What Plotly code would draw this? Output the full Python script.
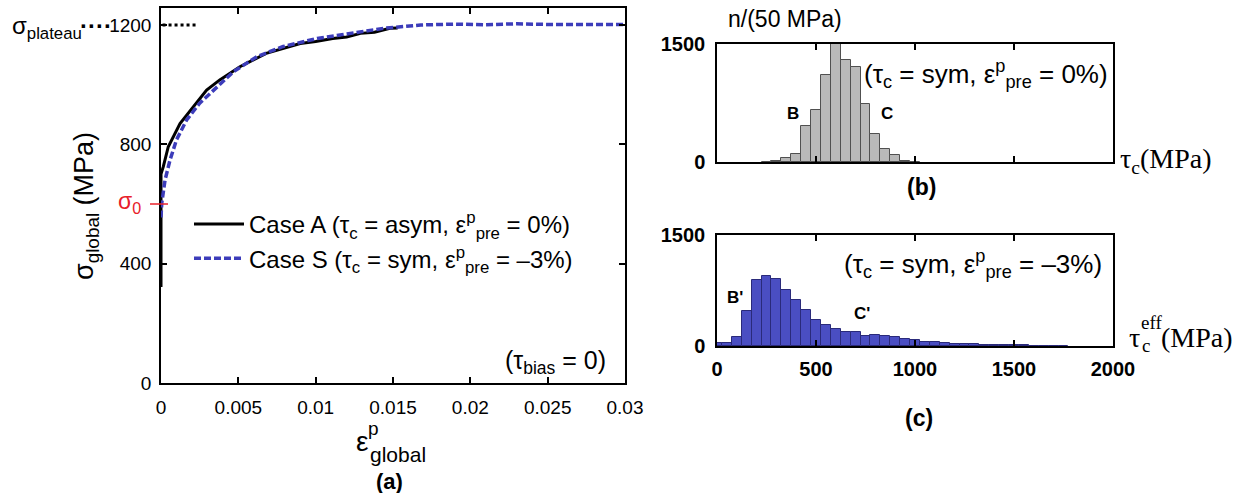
import plotly.graph_objects as go

W, H = 1239, 493

# ---------------- data ----------------
# Panel (a): stress-strain curves
caseA_strain = [0, 0, 0.00015, 0.00047, 0.00123, 0.00209, 0.00295, 0.0038, 0.0051, 0.0068,
                0.0079, 0.0090, 0.0100, 0.0111, 0.0120, 0.0129, 0.0138, 0.0148, 0.0153]
caseA_stress = [322, 700, 725, 792, 870, 926, 982, 1016, 1060, 1105,
                1122, 1138, 1145, 1155, 1160, 1172, 1176, 1189, 1190]

caseS_strain = [0, 0.00005, 0.00026, 0.00058, 0.0010, 0.00166, 0.0025, 0.0036, 0.0047, 0.0062,
                0.0079, 0.0101, 0.0122, 0.0144, 0.0168, 0.019, 0.021, 0.023, 0.025, 0.027, 0.030]
caseS_stress = [555, 603, 680, 747, 815, 882, 938, 993, 1044, 1094,
                1128, 1155, 1172, 1189, 1200, 1203, 1201, 1204, 1202, 1203, 1202]

plateau_strain = [0.0001, 0.0023]
plateau_stress = [1200, 1200]
sigma0 = 600

a_xticks = [0, 0.005, 0.01, 0.015, 0.02, 0.025, 0.03]
a_xticktext = ["0", "0.005", "0.01", "0.015", "0.02", "0.025", "0.03"]
a_yticks = [0, 400, 800, 1200]

# Panel (b): histogram of tau_c (sym, 0%)
b_centers = [250, 300, 350, 400, 450, 500, 550, 600, 650, 700, 750, 800, 850, 900, 950, 1000]
b_counts = [4, 12, 50, 105, 463, 662, 1103, 1500, 1293, 1210, 735, 354, 165, 88, 17, 3]

# Panel (c): histogram of tau_c^eff (sym, -3%)
c_centers = [0, 50, 100, 150, 200, 250, 300, 350, 400, 450, 500, 550, 600, 650, 700, 750,
             800, 850, 900, 950, 1000, 1050, 1100, 1150, 1200, 1250, 1300, 1350, 1400, 1450,
             1500, 1550, 1600, 1650, 1700, 1750]
c_counts = [40, 40, 125, 470, 895, 945, 900, 755, 620, 485, 345, 290, 225, 190, 190, 130,
            150, 130, 125, 100, 75, 60, 50, 40, 32, 27, 23, 20, 16, 13,
            10, 7, 5, 4, 3, 2]

hist_xticks = [0, 500, 1000, 1500, 2000]
hist_yticks = [0, 1500]

# ---------------- helpers ----------------
def px(x):
    return x / W

def py(y):
    return 1 - y / H

SANS = "Liberation Sans, Arial, sans-serif"
SERIF = "Liberation Serif, Times New Roman, serif"
BLUE = "#3c3cba"

fig = go.Figure()

fig.add_trace(go.Scatter(x=caseA_strain, y=caseA_stress, mode="lines",
                         line=dict(color="black", width=3),
                         name="Case A (τ<sub>c</sub> = asym, ε<sup>p</sup><sub>pre</sub> = 0%)",
                         xaxis="x", yaxis="y"))
fig.add_trace(go.Scatter(x=caseS_strain, y=caseS_stress, mode="lines",
                         line=dict(color=BLUE, width=3.5, dash="7px,3px"),
                         name="Case S (τ<sub>c</sub> = sym, ε<sup>p</sup><sub>pre</sub> = –3%)",
                         xaxis="x", yaxis="y"))
fig.add_trace(go.Scatter(x=plateau_strain, y=plateau_stress, mode="lines",
                         line=dict(color="black", width=3, dash="dot"),
                         showlegend=False, xaxis="x", yaxis="y"))

fig.add_trace(go.Bar(x=b_centers, y=b_counts, width=50,
                     marker=dict(color="#b9b9b9", line=dict(color="#505050", width=1)),
                     showlegend=False, xaxis="x2", yaxis="y2"))
fig.add_trace(go.Bar(x=c_centers, y=c_counts, width=50,
                     marker=dict(color="#4a4ec2", line=dict(color="#2a2a7a", width=1)),
                     showlegend=False, xaxis="x3", yaxis="y3"))

axis_common = dict(showline=True, linecolor="black", linewidth=1.5, mirror="ticks",
                   ticks="inside", ticklen=6, tickcolor="black", tickwidth=1.5,
                   showgrid=False, zeroline=False, fixedrange=True, automargin=False)

fig.update_layout(
    width=W, height=H,
    margin=dict(l=0, r=0, t=0, b=0, pad=0),
    paper_bgcolor="white", plot_bgcolor="white",
    bargap=0,
    font=dict(family=SANS, color="black", size=19),
    xaxis=dict(domain=[px(161), px(625)], range=[0, 0.03], anchor="y",
               tickvals=a_xticks, ticktext=a_xticktext,
               tickfont=dict(size=19), ticklabelstandoff=6, **axis_common),
    yaxis=dict(domain=[py(383), py(8)], range=[0, 1257], anchor="x",
               tickvals=a_yticks, tickfont=dict(size=19), ticklabelstandoff=4, **axis_common),
    xaxis2=dict(domain=[px(717), px(1113)], range=[0, 2000], anchor="y2",
                tickvals=hist_xticks, showticklabels=False, **axis_common),
    yaxis2=dict(domain=[py(162), py(44)], range=[0, 1500], anchor="x2",
                tickvals=hist_yticks, ticktext=["<b>0</b>", "<b>1500</b>"],
                tickfont=dict(size=20), ticklabelstandoff=6, **axis_common),
    xaxis3=dict(domain=[px(717), px(1113)], range=[0, 2000], anchor="y3",
                tickvals=hist_xticks, ticktext=["<b>%d</b>" % v for v in hist_xticks],
                tickfont=dict(size=20), ticklabelstandoff=4, **axis_common),
    yaxis3=dict(domain=[py(346), py(235)], range=[0, 1500], anchor="x3",
                tickvals=hist_yticks, ticktext=["<b>0</b>", "<b>1500</b>"],
                tickfont=dict(size=20), ticklabelstandoff=6, **axis_common),
    legend=dict(x=px(189), y=py(202), xanchor="left", yanchor="top",
                bgcolor="rgba(0,0,0,0)", borderwidth=0, itemwidth=50,
                font=dict(size=24, family=SANS), tracegroupgap=0),
    showlegend=True,
)

# red sigma_0 tick
fig.add_shape(type="line", xref="paper", yref="y", x0=px(150), x1=px(168),
              y0=sigma0, y1=sigma0, line=dict(color="#e8202a", width=1.5))

ann = []

def A(text, x, y, size=19, family=SANS, color="black", xanchor="center", yanchor="middle",
      angle=0, yref="paper"):
    ann.append(dict(text=text, x=px(x), y=(py(y) if yref == "paper" else y),
                    xref="paper", yref=yref, showarrow=False,
                    font=dict(size=size, family=family, color=color),
                    xanchor=xanchor, yanchor=yanchor, textangle=angle))

# panel (a) texts
A("σ<sub>plateau</sub>", 84, 1193, size=24, xanchor="right", yref="y")
A("<b>····</b>", 96, 1200, size=24, yref="y")
A("σ<sub>0</sub>", 129, 606, size=23, color="#e8202a", yref="y")
A("σ<sub>global</sub> (MPa)", 86, 206, size=27, angle=-90)
A("ε", 362, 441, size=28)
A("p", 373, 428, size=19)
A("global", 398, 454, size=21)
A("<b>(a)</b>", 389, 481, size=22)
A("(τ<sub>bias</sub> = 0)", 608, 362, size=25, xanchor="right")

# panel (b) texts
A("n/(50 MPa)", 726, 19, size=23, xanchor="left")
A("(τ<sub>c</sub> = sym, ε<sup>p</sup><sub>pre</sub> = 0%)", 1110, 74, size=26, xanchor="right")
A("<b>B</b>", 793, 113, size=17)
A("<b>C</b>", 887, 113, size=17)
A("τ<sub>c</sub>(MPa)", 1118, 160, size=28, family=SERIF, xanchor="left")
A("<b>(b)</b>", 921, 187, size=23)

# panel (c) texts
A("(τ<sub>c</sub> = sym, ε<sup>p</sup><sub>pre</sub> = –3%)", 1104, 264, size=26, xanchor="right")
A("<b>B'</b>", 735, 297, size=17)
A("<b>C'</b>", 862, 313, size=17)
A("τ", 1134, 337, size=28, family=SERIF)
A("eff", 1151, 322, size=19, family=SERIF)
A("c", 1146, 345, size=19, family=SERIF)
A("(MPa)", 1197, 337, size=28, family=SERIF)
A("<b>(c)</b>", 919, 418, size=23)

fig.update_layout(annotations=ann)

fig.write_html("out.html")
